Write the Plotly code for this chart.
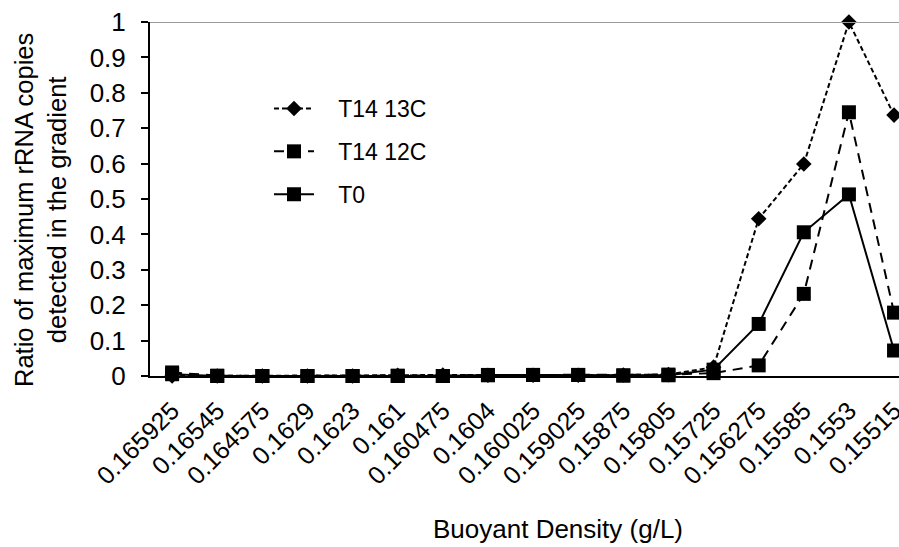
import plotly.graph_objects as go

categories = ["0.165925", "0.16545", "0.164575", "0.1629", "0.1623", "0.161", "0.160475",
              "0.1604", "0.160025", "0.159025", "0.15875", "0.15805", "0.15725", "0.156275",
              "0.15585", "0.1553", "0.15515"]
t14_13c = [0.0, 0.0, 0.0, 0.0, 0.0, 0.002, 0.003, 0.002, 0.002, 0.002, 0.003, 0.004,
           0.025, 0.444, 0.599, 1.0, 0.737]
t14_12c = [0.01, 0.001, 0.0, 0.0, 0.0, 0.0, 0.0, 0.002, 0.003, 0.003, 0.002, 0.004,
           0.008, 0.03, 0.232, 0.745, 0.179]
t0 = [0.005, 0.0, 0.0, 0.0, 0.0, 0.001, 0.0, 0.003, 0.003, 0.003, 0.001, 0.002,
      0.018, 0.147, 0.406, 0.513, 0.072]
y_ticks = [0, 0.1, 0.2, 0.3, 0.4, 0.5, 0.6, 0.7, 0.8, 0.9, 1]
y_ticktext = ["0", "0.1", "0.2", "0.3", "0.4", "0.5", "0.6", "0.7", "0.8", "0.9", "1"]

FONT = "Liberation Sans, Arial, sans-serif"
W, H = 899, 547
L, T, B = 150, 22, 171
PW = W - L
PH = H - T - B

def px_x(p):
    return (p - L) / PW

def px_y(p):
    return (H - B - p) / PH

NB = "\u00a0\u00a0\u00a0"

fig = go.Figure()
fig.add_trace(go.Scatter(
    x=categories, y=t14_13c, name=NB + "T14 13C", mode="lines+markers",
    line=dict(color="black", width=2, dash="5px,3px"),
    marker=dict(symbol="diamond", size=12, color="black"),
    cliponaxis=False, legendgroup="a"))
fig.add_trace(go.Scatter(
    x=categories, y=t14_12c, name=NB + "T14 12C", mode="lines+markers",
    line=dict(color="black", width=2, dash="10px,7px"),
    marker=dict(symbol="square", size=14, color="black"),
    cliponaxis=False, legendgroup="b"))
fig.add_trace(go.Scatter(
    x=categories, y=t0, name=NB + "T0", mode="lines+markers",
    line=dict(color="black", width=2),
    marker=dict(symbol="square", size=14, color="black"),
    cliponaxis=False, legendgroup="c"))

fig.update_layout(
    width=W, height=H,
    margin=dict(l=L, r=0, t=T, b=B, autoexpand=False),
    paper_bgcolor="white", plot_bgcolor="white",
    font=dict(family=FONT, size=23, color="black"),
    showlegend=True,
    legend=dict(x=px_x(269), y=px_y(87), xanchor="left", yanchor="top",
                bgcolor="rgba(0,0,0,0)", font=dict(size=23, family=FONT),
                tracegroupgap=10, itemwidth=40),
    xaxis=dict(type="category", range=[-0.49, 16.11], showgrid=False, zeroline=False,
               showline=True, linecolor="black", linewidth=2, ticks="",
               tickangle=-45, tickfont=dict(size=25, family=FONT),
               ticklabelstandoff=8),
    yaxis=dict(range=[0, 1], tickvals=y_ticks, ticktext=y_ticktext, showgrid=False,
               zeroline=False, showline=True, linecolor="black", linewidth=2,
               ticks="outside", ticklen=7, tickwidth=2, tickcolor="black",
               tickfont=dict(size=26, family=FONT), ticklabelstandoff=10),
    shapes=[dict(type="line", xref="paper", yref="y", x0=0, x1=1, y0=1, y1=1,
                 line=dict(color="#9a9a9a", width=2))],
    annotations=[
        dict(text="Buoyant Density (g/L)", xref="paper", yref="paper",
             x=px_x(558), y=px_y(529), xanchor="center", yanchor="middle",
             showarrow=False, font=dict(size=26, family=FONT)),
        dict(text="Ratio of maximum rRNA copies<br>detected in the gradient",
             xref="paper", yref="paper", x=px_x(40), y=px_y(210),
             xanchor="center", yanchor="middle", textangle=-90,
             showarrow=False, font=dict(size=25.5, family=FONT)),
    ],
)

fig.write_html("out.html")
